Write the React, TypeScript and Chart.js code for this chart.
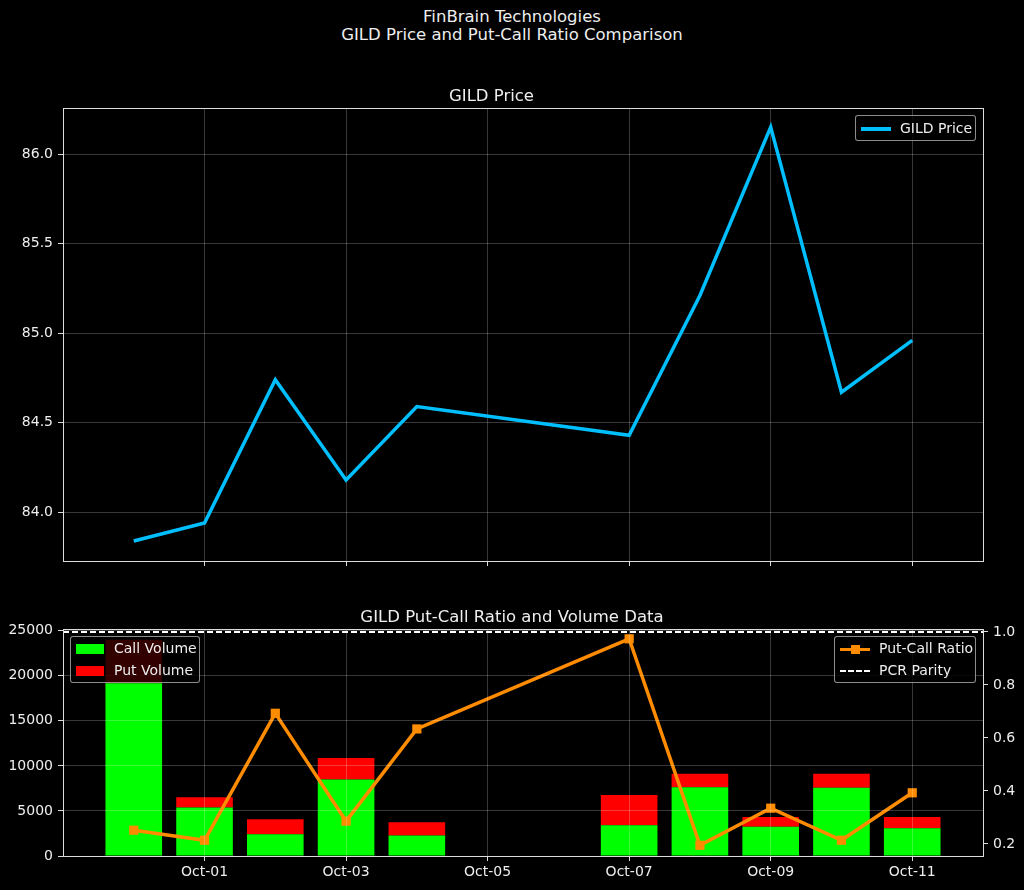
import React, { useEffect, useRef } from "react";
import { Chart, registerables } from "chart.js";

Chart.register(...registerables);

// ---------- data ----------
const dates = [
  "2024-09-30", "2024-10-01", "2024-10-02", "2024-10-03", "2024-10-04",
  "2024-10-07", "2024-10-08", "2024-10-09", "2024-10-10", "2024-10-11",
];
const price = [83.84, 83.94, 84.74, 84.18, 84.59, 84.43, 85.21, 86.15, 84.67, 84.96];
const callVolume = [19170, 5380, 2410, 8500, 2270, 3420, 7640, 3250, 7570, 3080];
const putVolume = [4830, 1150, 1670, 2370, 1480, 3340, 1480, 1090, 1560, 1260];
const putCallRatio = [0.252, 0.214, 0.693, 0.286, 0.634, 0.974, 0.195, 0.335, 0.214, 0.393];
const parityLevel = 1.0;
const tickDates = ["2024-10-01", "2024-10-03", "2024-10-05", "2024-10-07", "2024-10-09", "2024-10-11"];
const priceTicks = [84.0, 84.5, 85.0, 85.5, 86.0];
const volumeTicks = [0, 5000, 10000, 15000, 20000, 25000];
const ratioTicks = [0.2, 0.4, 0.6, 0.8, 1.0];
const months = ["Jan", "Feb", "Mar", "Apr", "May", "Jun", "Jul", "Aug", "Sep", "Oct", "Nov", "Dec"];

const DAY = 86400000;
const t0 = Date.parse(dates[0]);
const dayOf = (d: string) => (Date.parse(d) - t0) / DAY;
const fmtDate = (d: string) => {
  const dt = new Date(Date.parse(d));
  return months[dt.getUTCMonth()] + "-" + String(dt.getUTCDate()).padStart(2, "0");
};
const xMin = -1;
const xMax = 12;

const FONT = "'DejaVu Sans', sans-serif";
const TEXT = "#eeeeee";
const GRID = "rgba(255,255,255,0.22)";
const SPINE = "#dddddd";
const TITLE_SIZE = 16.5;

const boxPlugin = {
  id: "box",
  afterDraw(chart: any) {
    const { ctx, chartArea: a } = chart;
    ctx.save();
    ctx.strokeStyle = SPINE;
    ctx.lineWidth = 1;
    ctx.strokeRect(Math.round(a.left) + 0.5, Math.round(a.top) + 0.5, Math.round(a.right - a.left), Math.round(a.bottom - a.top));
    ctx.restore();
  },
};

const noPad = (s: any) => {
  s.paddingTop = 0;
  s.paddingBottom = 0;
  s.paddingLeft = 0;
  s.paddingRight = 0;
};

const xTicksBuilder = (scale: any) => {
  scale.ticks = tickDates.map((d) => ({ value: dayOf(d) }));
};
const xTickLabel = (v: any) => {
  const d = tickDates.find((t) => dayOf(t) === v);
  return d ? fmtDate(d) : "";
};

export default function App() {
  const topRef = useRef<HTMLCanvasElement>(null);
  const botRef = useRef<HTMLCanvasElement>(null);

  useEffect(() => {
    Chart.defaults.font.family = FONT;
    Chart.defaults.font.size = 14;
    Chart.defaults.color = TEXT;
    document.body.style.background = "#000";

    const top = new Chart(topRef.current!, {
      type: "line",
      data: {
        datasets: [
          {
            label: "GILD Price",
            data: dates.map((d, i) => ({ x: dayOf(d), y: price[i] })),
            borderColor: "#00bfff",
            borderWidth: 3.5,
            pointRadius: 0,
            tension: 0,
          },
        ],
      },
      options: {
        animation: false,
        responsive: false,
        layout: { padding: { left: 0, right: 41, top: 0, bottom: 0 } },
        plugins: {
          legend: { display: false },
          tooltip: { enabled: false },
          title: {
            display: true,
            text: "GILD Price",
            color: TEXT,
            font: { family: FONT, size: TITLE_SIZE, weight: "normal" },
            padding: { top: 7, bottom: 1.2 },
          },
        },
        scales: {
          x: {
            type: "linear",
            min: xMin,
            max: xMax,
            afterBuildTicks: xTicksBuilder,
            afterFit: (s: any) => { s.height = 10; noPad(s); },
            ticks: { display: false },
            grid: { color: GRID, tickColor: SPINE, tickLength: 5 },
            border: { display: false },
          },
          y: {
            type: "linear",
            min: 83.728,
            max: 86.257,
            afterBuildTicks: (s: any) => { s.ticks = priceTicks.map((v) => ({ value: v })); },
            afterFit: (s: any) => { s.width = 63; noPad(s); },
            ticks: { color: TEXT, padding: 5, callback: (v: any) => Number(v).toFixed(1) },
            grid: { color: GRID, tickColor: SPINE, tickLength: 5 },
            border: { display: false },
          },
        },
      },
      plugins: [boxPlugin],
    } as any);

    const bot = new Chart(botRef.current!, {
      type: "bar",
      data: {
        datasets: [
          {
            type: "line",
            label: "Put-Call Ratio",
            data: dates.map((d, i) => ({ x: dayOf(d), y: putCallRatio[i] })),
            yAxisID: "y1",
            borderColor: "#ff8c00",
            backgroundColor: "#ff8c00",
            borderWidth: 3.5,
            pointStyle: "rect",
            pointRadius: 6.5,
            pointBorderWidth: 0,
            tension: 0,
            order: 0,
          },
          {
            type: "line",
            label: "PCR Parity",
            data: [{ x: xMin, y: parityLevel }, { x: xMax, y: parityLevel }],
            yAxisID: "y1",
            borderColor: "#ffffff",
            borderWidth: 2,
            borderDash: [6, 3],
            pointRadius: 0,
            order: 0,
          },
          {
            type: "bar",
            label: "Call Volume",
            data: dates.map((d, i) => ({ x: dayOf(d), y: callVolume[i] })),
            backgroundColor: "#00ff00",
            yAxisID: "y",
            barPercentage: 0.8,
            categoryPercentage: 1,
            order: 1,
          },
          {
            type: "bar",
            label: "Put Volume",
            data: dates.map((d, i) => ({ x: dayOf(d), y: putVolume[i] })),
            backgroundColor: "#ff0000",
            yAxisID: "y",
            barPercentage: 0.8,
            categoryPercentage: 1,
            order: 2,
          },
        ],
      },
      options: {
        animation: false,
        responsive: false,
        layout: { padding: { left: 0, right: 0, top: 0, bottom: 0 } },
        plugins: {
          legend: { display: false },
          tooltip: { enabled: false },
          title: {
            display: true,
            text: "GILD Put-Call Ratio and Volume Data",
            color: TEXT,
            font: { family: FONT, size: TITLE_SIZE, weight: "normal" },
            padding: { top: 7, bottom: 1.2 },
          },
        },
        scales: {
          x: {
            type: "linear",
            min: xMin,
            max: xMax,
            offset: false,
            stacked: true,
            afterBuildTicks: xTicksBuilder,
            afterFit: (s: any) => { s.height = 34; noPad(s); },
            ticks: { color: TEXT, padding: 3, maxRotation: 0, autoSkip: false, callback: xTickLabel },
            grid: { color: GRID, tickColor: SPINE, tickLength: 5, z: 1, offset: false },
            border: { display: false },
          },
          y: {
            type: "linear",
            position: "left",
            stacked: true,
            min: 0,
            max: 25190,
            afterBuildTicks: (s: any) => { s.ticks = volumeTicks.map((v) => ({ value: v })); },
            afterFit: (s: any) => { s.width = 63; noPad(s); },
            ticks: { color: TEXT, padding: 5, callback: (v: any) => String(v) },
            grid: { color: GRID, tickColor: SPINE, tickLength: 5, z: 1 },
            border: { display: false },
          },
          y1: {
            type: "linear",
            position: "right",
            min: 0.1546,
            max: 1.011,
            afterBuildTicks: (s: any) => { s.ticks = ratioTicks.map((v) => ({ value: v })); },
            afterFit: (s: any) => { s.width = 41; noPad(s); },
            ticks: { color: TEXT, padding: 5, callback: (v: any) => Number(v).toFixed(1) },
            grid: { display: true, drawOnChartArea: false, tickColor: SPINE, tickLength: 5 },
            border: { display: false },
          },
        },
      },
      plugins: [boxPlugin],
    } as any);

    return () => {
      top.destroy();
      bot.destroy();
    };
  }, []);

  const txt: React.CSSProperties = { fontFamily: FONT, fontSize: 14, color: TEXT, whiteSpace: "nowrap" };
  const legendBox: React.CSSProperties = {
    position: "absolute",
    background: "rgba(0,0,0,0.8)",
    border: "1px solid rgba(255,255,255,0.55)",
    borderRadius: 3,
    boxSizing: "border-box",
  };

  return (
    <div style={{ position: "absolute", left: 0, top: 0, width: 1024, height: 890, background: "#000", overflow: "hidden" }}>
      <div style={{ ...txt, fontSize: TITLE_SIZE, position: "absolute", left: 0, top: 8, width: 1024, textAlign: "center", lineHeight: "18px" }}>
        <div>FinBrain Technologies</div>
        <div>GILD Price and Put-Call Ratio Comparison</div>
      </div>
      <canvas ref={topRef} width={1024} height={491} style={{ position: "absolute", left: 0, top: 80, width: 1024, height: 491 }} />
      <canvas ref={botRef} width={1024} height={289} style={{ position: "absolute", left: 0, top: 601, width: 1024, height: 289 }} />

      {/* top legend */}
      <div style={{ ...legendBox, left: 855, top: 115, width: 121, height: 26 }}>
        <div style={{ position: "absolute", left: 5, top: 11, width: 30, height: 3.5, background: "#00bfff" }} />
        <div style={{ ...txt, position: "absolute", left: 44, top: 4, lineHeight: "17px" }}>GILD Price</div>
      </div>

      {/* bottom-left legend */}
      <div style={{ ...legendBox, left: 70, top: 636, width: 130, height: 47 }}>
        <div style={{ position: "absolute", left: 5, top: 7, width: 28, height: 10, background: "#00ff00" }} />
        <div style={{ ...txt, position: "absolute", left: 43, top: 3, lineHeight: "17px" }}>Call Volume</div>
        <div style={{ position: "absolute", left: 5, top: 29, width: 28, height: 10, background: "#ff0000" }} />
        <div style={{ ...txt, position: "absolute", left: 43, top: 25, lineHeight: "17px" }}>Put Volume</div>
      </div>

      {/* bottom-right legend */}
      <div style={{ ...legendBox, left: 834, top: 636, width: 142, height: 47 }}>
        <div style={{ position: "absolute", left: 5, top: 10.5, width: 30, height: 3.5, background: "#ff8c00" }} />
        <div style={{ position: "absolute", left: 15.5, top: 7.5, width: 9, height: 9, background: "#ff8c00" }} />
        <div style={{ ...txt, position: "absolute", left: 44, top: 3, lineHeight: "17px" }}>Put-Call Ratio</div>
        <div style={{ position: "absolute", left: 5, top: 33, width: 30, height: 0, borderTop: "2px dashed #ffffff" }} />
        <div style={{ ...txt, position: "absolute", left: 44, top: 25, lineHeight: "17px" }}>PCR Parity</div>
      </div>
    </div>
  );
}
